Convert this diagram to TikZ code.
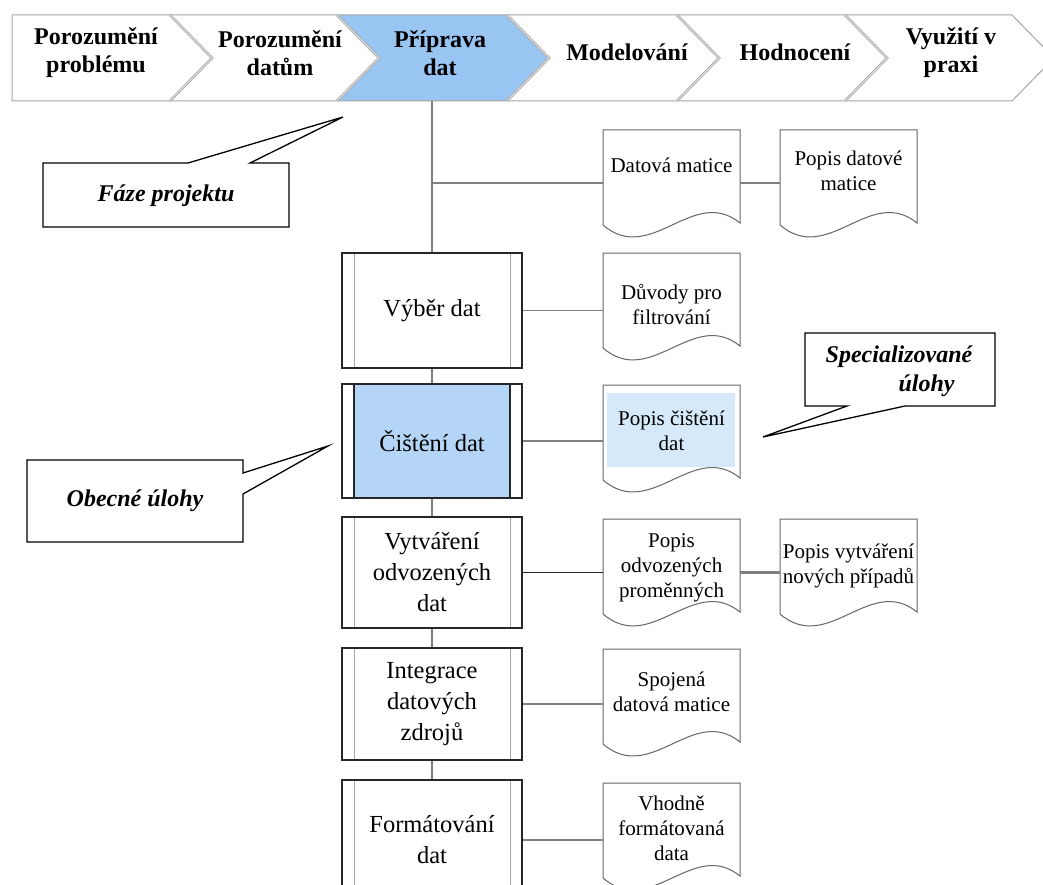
\documentclass[tikz,border=0pt]{standalone}
\usepackage{fontspec}
\setmainfont{Liberation Serif}
\definecolor{phaseblue}{RGB}{153,197,242}
\definecolor{taskblue}{RGB}{180,213,246}
\definecolor{docblue}{RGB}{214,233,250}
\definecolor{linegray}{RGB}{128,128,128}

% document symbol with a wavy lower edge: left x, top y, extra options
\newcommand\docoutline[3]{%
  \draw[docline,#3] (#1,#2) -- ({#1+137},#2) -- ({#1+137},{#2+93})
    .. controls ({#1+90},{#2+55}) and ({#1+48},{#2+136}) .. (#1,{#2+95}) -- cycle;
}
% notched boundary between two phases, at x = #1
\newcommand\phaseseam[1]{%
  \draw[seam] (#1,15) -- ({#1+42},58) -- (#1,101);
}

\begin{document}
\begin{tikzpicture}[x=1pt,y=-1pt,
  chev/.style={fill=white},
  seam/.style={draw=gray!75, line width=0.7pt, double=gray!25, double distance=1.1pt, line join=miter},
  chevtext/.style={font=\fontsize{24}{28}\selectfont\bfseries, align=center, inner sep=0pt},
  procbox/.style={draw=black!85, line width=1.5pt, fill=white, minimum width=180pt,
    minimum height=#1, inner sep=0pt, align=center, font=\fontsize{24.5}{31}\selectfont,
    path picture={
      \draw[gray!70, line width=1pt]
        ([xshift=12pt]path picture bounding box.north west) -- ([xshift=12pt]path picture bounding box.south west)
        ([xshift=-12pt]path picture bounding box.north east) -- ([xshift=-12pt]path picture bounding box.south east);
    }},
  procblue/.style={draw=black!85, line width=1.5pt, fill=white, minimum width=180pt,
    minimum height=#1, inner sep=0pt, align=center, font=\fontsize{24.5}{31}\selectfont,
    path picture={
      \fill[taskblue] ([xshift=12pt]path picture bounding box.north west) rectangle ([xshift=-12pt]path picture bounding box.south east);
      \draw[black!85, line width=1.5pt]
        ([xshift=12pt]path picture bounding box.north west) -- ([xshift=12pt]path picture bounding box.south west)
        ([xshift=-12pt]path picture bounding box.north east) -- ([xshift=-12pt]path picture bounding box.south east);
    }},
  docline/.style={draw=gray!80!black, line width=1pt, fill=white},
  doctext/.style={minimum width=137pt, inner sep=0pt, align=center, font=\fontsize{21}{25}\selectfont},
  conn/.style={draw=linegray, line width=1.3pt},
  thickconn/.style={draw=linegray, line width=2.4pt},
  darkconn/.style={draw=black!85, line width=1.6pt},
  callout/.style={draw=black, line width=1.3pt, fill=white, line join=miter},
  callouttext/.style={font=\fontsize{24}{29}\selectfont\bfseries\itshape, align=center, inner sep=0pt}
]
\useasboundingbox (0,0) rectangle (1043,885);
\fill[white] (0,0) rectangle (1043,885);

% ---- project phases ----
\fill[chev, fill=phaseblue] (337,15) -- (507,15) -- (549,58) -- (507,101) -- (337,101) -- (379,58) -- cycle;
\draw[gray!70, line width=1pt] (12,15) -- (1012,15) -- (1054,58) -- (1012,101) -- (12,101) -- cycle;
\phaseseam{170}
\phaseseam{337}
\phaseseam{507}
\phaseseam{677}
\phaseseam{845}

\node[chevtext] (ph1) at (96,53) {Porozumění\\problému};
\node[chevtext] (ph2) at (280,53) {Porozumění\\datům};
\node[chevtext] (ph3) at (440,53) {Příprava\\dat};
\node[chevtext] (ph4) at (627,52) {Modelování};
\node[chevtext] (ph5) at (795,52) {Hodnocení};
\node[chevtext] (ph6) at (951,53) {Využití v\\praxi};

\coordinate (phasebottom) at (432,101);
\coordinate (branch) at (432,183);

% ---- generic tasks ----
\node[procbox=115pt] (vyber) at (432,310.5) {Výběr dat};
\node[procblue=114pt] (cisteni) at (432,441) {Čištění dat};
\node[procbox=111pt] (vytvareni) at (432,572.5) {Vytváření\\odvozených\\dat};
\node[procbox=112pt] (integrace) at (432,704) {Integrace\\datových\\zdrojů};
\node[procbox=120pt] (formatovani) at (432,840) {Formátování\\dat};

% ---- outputs ----
\docoutline{603}{130}{}
\docoutline{780}{130}{}
\docoutline{603}{253}{}
\docoutline{603}{385}{}
\fill[docblue] (607,393) rectangle (735,467);
\docoutline{603}{519}{}
\docoutline{780}{519}{}
\docoutline{603}{649}{}
\docoutline{603}{783}{}

\node[doctext] (datova) at (671.5,165) {Datová matice};
\node[doctext] (popisdm) at (848.5,171) {Popis datové\\matice};
\node[doctext] (duvody) at (671.5,304) {Důvody pro\\filtrování};
\node[doctext] (popiscist) at (671.5,431) {Popis čištění\\dat};
\node[doctext] (popisodv) at (671.5,568) {Popis\\odvozených\\proměnných};
\node[doctext] (popisvytv) at (848.5,566) {Popis vytváření\\nových případů};
\node[doctext] (spojena) at (671.5,692) {Spojená\\datová matice};
\node[doctext] (vhodne) at (671.5,828) {Vhodně\\formátovaná\\data};

% ---- connectors ----
\draw[conn] (phasebottom) -- (vyber.north);
\draw[thickconn] (branch) -- (branch -| datova.west);
\draw[thickconn] (branch -| datova.east) -- (branch -| popisdm.west);
\draw[conn] (vyber.south) -- (cisteni.north);
\draw[conn] (cisteni.south) -- (vytvareni.north);
\draw[conn] (vytvareni.south) -- (integrace.north);
\draw[conn] (integrace.south) -- (formatovani.north);
\draw[conn] (vyber.east) -- (vyber.east -| duvody.west);
\draw[conn] (cisteni.east) -- (cisteni.east -| popiscist.west);
\draw[darkconn] (vytvareni.east) -- (vytvareni.east -| popisodv.west);
\draw[thickconn] (vytvareni.east -| popisodv.east) -- (vytvareni.east -| popisvytv.west);
\draw[conn] (integrace.east) -- (integrace.east -| spojena.west);
\draw[conn] (formatovani.east) -- (formatovani.east -| vhodne.west);

% ---- callouts ----
\draw[callout] (188,163) -- (343,117) -- (250,163) -- (289,163) -- (289,227) -- (43,227) -- (43,163) -- cycle;
\node[callouttext] (faze) at (166,196) {Fáze projektu};

\draw[callout] (243,473) -- (328,446) -- (243,494) -- (243,542) -- (27,542) -- (27,460) -- (243,460) -- cycle;
\node[callouttext] (obecne) at (135,501) {Obecné úlohy};

\draw[callout] (847,406) -- (763,437) -- (905,406) -- (995,406) -- (995,333) -- (805,333) -- (805,406) -- cycle;
\node[callouttext] (special) at (899,371) {Specializované\\\hspace*{2.3em}úlohy};
\end{tikzpicture}
\end{document}
